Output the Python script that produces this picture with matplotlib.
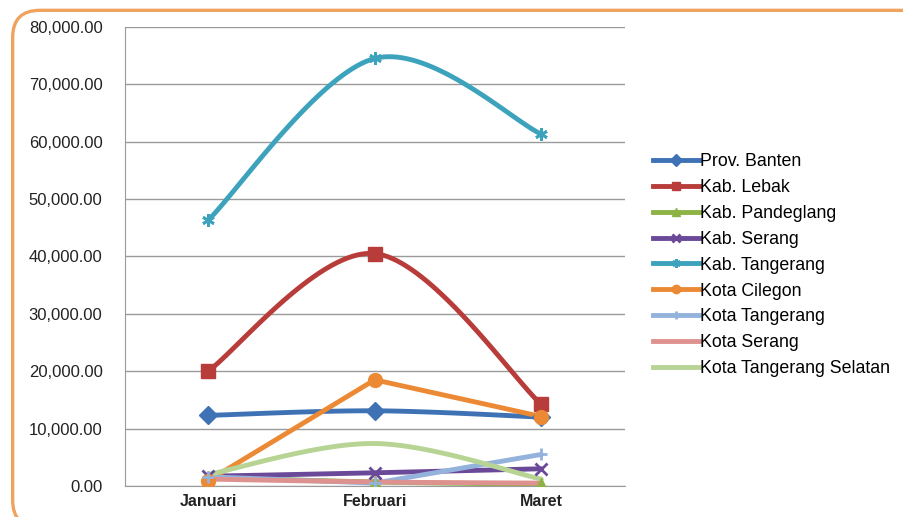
import numpy as np
import matplotlib.pyplot as plt
from matplotlib.patches import FancyBboxPatch

plt.rcParams['font.family'] = ['Liberation Sans', 'DejaVu Sans']

# Data
months = ["Januari", "Februari", "Maret"]
regions = ["Prov. Banten", "Kab. Lebak", "Kab. Pandeglang", "Kab. Serang",
           "Kab. Tangerang", "Kota Cilegon", "Kota Tangerang", "Kota Serang",
           "Kota Tangerang Selatan"]
prov_banten = [12300, 13100, 12000]
kab_lebak = [20000, 40500, 14200]
kab_pandeglang = [1500, 700, 300]
kab_serang = [1700, 2300, 3000]
kab_tangerang = [46300, 74500, 61300]
kota_cilegon = [900, 18500, 12100]
kota_tangerang = [1600, 500, 5500]
kota_serang = [1200, 700, 500]
kota_tangsel = [2000, 7400, 1200]

series = [prov_banten, kab_lebak, kab_pandeglang, kab_serang, kab_tangerang,
          kota_cilegon, kota_tangerang, kota_serang, kota_tangsel]
colors = ['#3F72B4', '#B83C3A', '#8DB345', '#6A4A98', '#3DA3BD',
          '#EC8935', '#93B2DC', '#DE928F', '#B7D494']
markers = ['D', 's', '^', 'x', (6, 2, 0), 'o', '+', None, None]
smooth = [True, True, True, True, True, False, False, True, True]


def smooth_curve(x, y, n=40):
    # Bezier segments with control points from the neighbouring points
    x = np.asarray(x, float)
    y = np.asarray(y, float)
    px = np.concatenate([[x[0]], x, [x[-1]]])
    py = np.concatenate([[y[0]], y, [y[-1]]])
    xs, ys = [], []
    t = np.linspace(0, 1, n)
    for i in range(len(x) - 1):
        p0 = np.array([x[i], y[i]])
        p3 = np.array([x[i + 1], y[i + 1]])
        p1 = p0 + (np.array([px[i + 2], py[i + 2]]) - np.array([px[i], py[i]])) / 6
        p2 = p3 - (np.array([px[i + 3], py[i + 3]]) - np.array([px[i + 1], py[i + 1]])) / 6
        b = ((1 - t) ** 3)[:, None] * p0 + (3 * (1 - t) ** 2 * t)[:, None] * p1 \
            + (3 * (1 - t) * t ** 2)[:, None] * p2 + (t ** 3)[:, None] * p3
        xs.extend(b[:, 0])
        ys.extend(b[:, 1])
    return np.array(xs), np.array(ys)


fig = plt.figure(figsize=(9.04, 5.17), dpi=100)
ax = fig.add_axes([0.138, 0.06, 0.553, 0.888])

# Rounded orange frame, running off the right and bottom edges
frame = FancyBboxPatch((0.014, -0.02), 1.05, 1.0, transform=fig.transFigure,
                       boxstyle="round,pad=0,rounding_size=0.03",
                       facecolor='none', edgecolor='#F0A35E', linewidth=2.4,
                       mutation_aspect=904 / 517)
fig.patches.append(frame)

x = np.arange(len(months))
handles = []
for name, vals, c, m, sm in zip(regions, series, colors, markers, smooth):
    if sm:
        cx, cy = smooth_curve(x, vals)
    else:
        cx, cy = x, np.asarray(vals)
    ax.plot(cx, cy, color=c, linewidth=3.5, solid_capstyle='round', zorder=3)
    mew = 2 if m in ('x', '+', (6, 2, 0)) else 1
    ax.plot(x, vals, linestyle='none', marker=m, markersize=10 if m in ('s', 'o') else 9,
            color=c, markeredgewidth=mew, zorder=4)
    h, = ax.plot([], [], color=c, linewidth=3.5, marker=m, markersize=6,
                 markeredgewidth=mew)
    handles.append(h)

ax.set_xlim(-0.5, 2.5)
ax.set_ylim(0, 80000)
ax.set_xticks(x)
ax.set_xticklabels(months, fontsize=11.5, fontweight='bold', color='#222222')
ax.set_yticks(np.arange(0, 80001, 10000))
ax.set_yticklabels([f"{v:,.2f}" for v in np.arange(0, 80001, 10000)],
                   fontsize=12, color='#222222')
ax.tick_params(axis='both', length=0, pad=6)
ax.tick_params(axis='y', pad=16)
ax.grid(axis='y', color='#9A9A9A', linewidth=1)
ax.set_axisbelow(True)
for s in ['top', 'right']:
    ax.spines[s].set_visible(False)
ax.spines['left'].set_color('#9A9A9A')
ax.spines['bottom'].set_color('#9A9A9A')

fig.legend(handles, regions, loc='center left', bbox_to_anchor=(0.705, 0.487),
           frameon=False, fontsize=12.8, handlelength=2.6, handletextpad=0.05,
           labelspacing=0.5)

fig.savefig('out.png', dpi=100)
